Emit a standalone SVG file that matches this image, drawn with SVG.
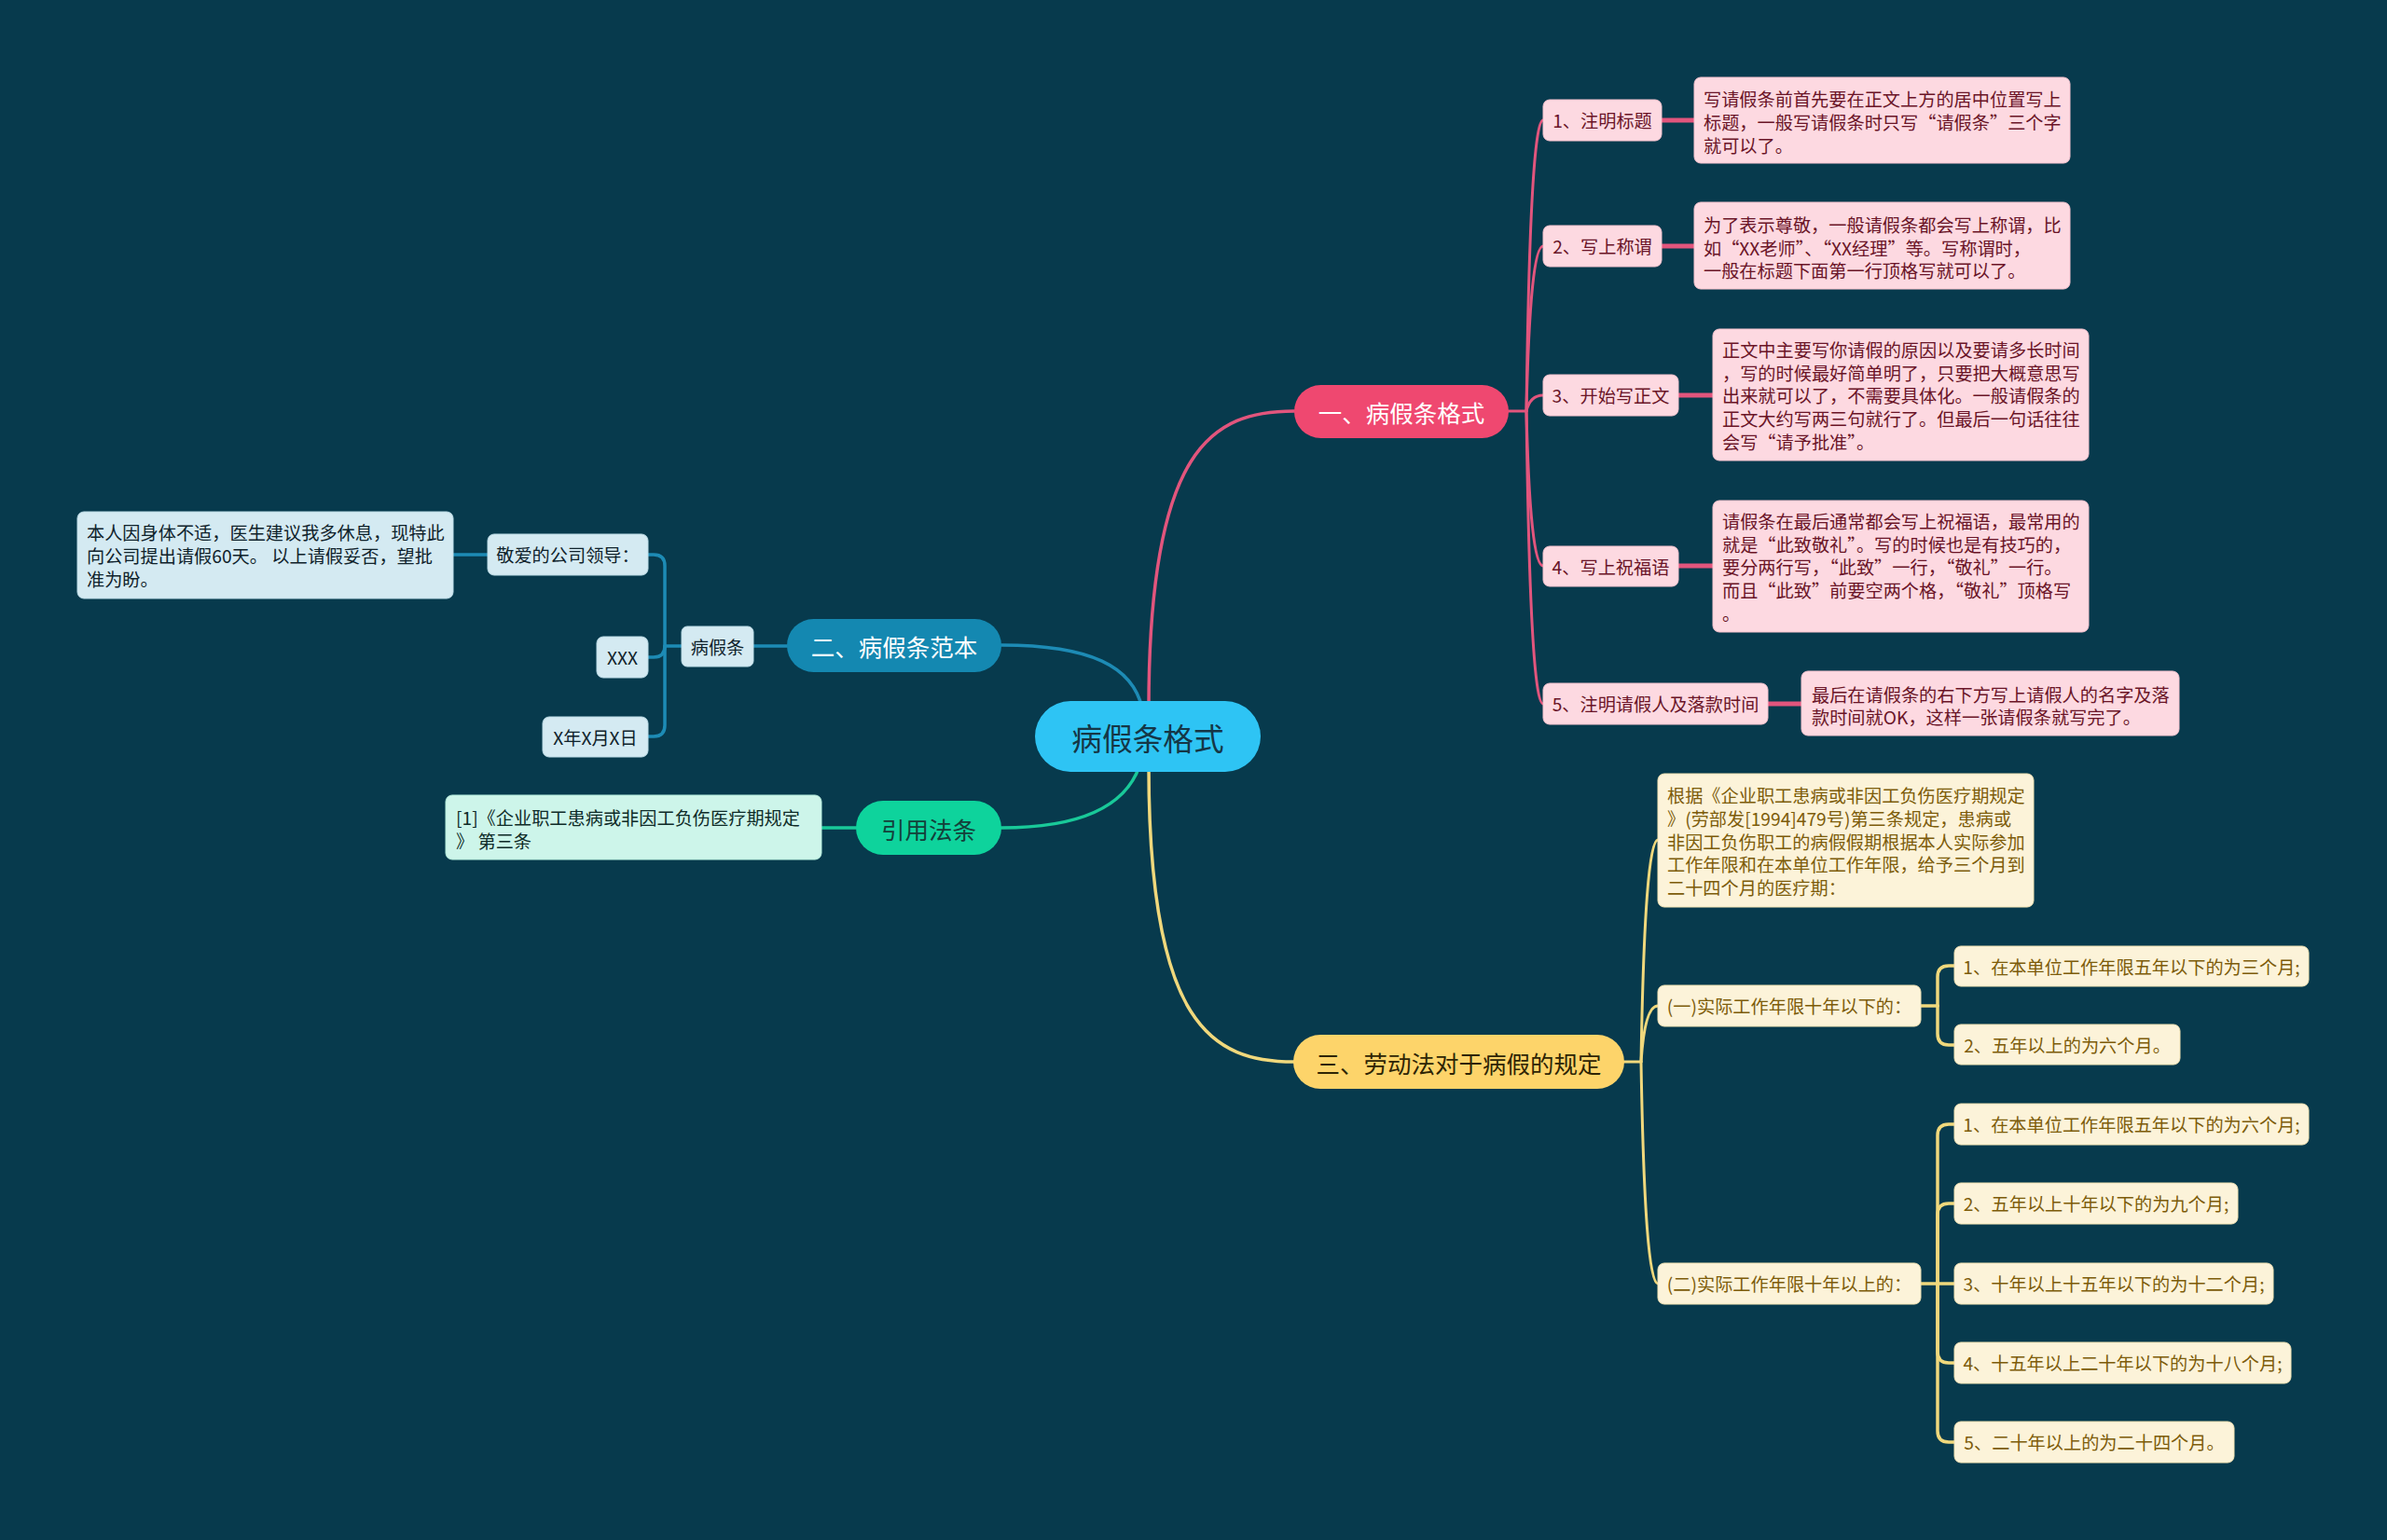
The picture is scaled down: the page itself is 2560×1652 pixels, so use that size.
<svg xmlns="http://www.w3.org/2000/svg" width="2560" height="1652" viewBox="0 0 2560 1652">
<style>
text{font-family:"Noto Sans CJK SC","Noto Sans",sans-serif;dominant-baseline:central}
.t{font-size:19.2px}
.m{text-anchor:middle}
.pk rect{fill:#fdd9e1;stroke:#f6c3cf;stroke-width:1}
.pk text{fill:#6a1427}
.bl rect{fill:#d4eaf2;stroke:#bcdbe6;stroke-width:1}
.bl text{fill:#0f222b}
.gr rect{fill:#cdf5ea;stroke:#b5ecdc;stroke-width:1}
.gr text{fill:#0e2b28}
.yl rect{fill:#fcf3d9;stroke:#f1e2b3;stroke-width:1}
.yl text{fill:#7d5c0a}
.lp{stroke:#e2557d;fill:none}
.lb{stroke:#1d8bb5;fill:none}
.lg{stroke:#19c999;fill:none}
.ly{stroke:#f0d87c;fill:none}
</style>
<rect x="0" y="0" width="2560" height="1652" fill="#073a4d"/>

<g id="connectors" stroke-linecap="round">
  <!-- center to main branches -->
  <path class="lp" stroke-width="3.5" d="M1232 760 C1232 480 1300 441 1388 441"/>
  <path class="lb" stroke-width="3.5" d="M1074 692 C1170 692 1215 715 1225 760"/>
  <path class="lg" stroke-width="3.5" d="M1222 822 C1205 870 1150 888 1074 888"/>
  <path class="ly" stroke-width="3.5" d="M1232 822 C1232 1100 1300 1139 1388 1139"/>
  <!-- pink sub -->
  <path class="lp" stroke-width="3" d="M1618 441 H1637"/>
  <path class="lp" stroke-width="3" d="M1637 441 Q1641 129 1655 129"/>
  <path class="lp" stroke-width="3" d="M1637 441 Q1641 264 1655 264"/>
  <path class="lp" stroke-width="3" d="M1637 441 Q1641 424 1655 424"/>
  <path class="lp" stroke-width="3" d="M1637 441 Q1641 607 1655 607"/>
  <path class="lp" stroke-width="3" d="M1637 441 Q1641 755 1655 755"/>
  <path class="lp" stroke-width="5" d="M1782 129 H1817"/>
  <path class="lp" stroke-width="5" d="M1782 264 H1817"/>
  <path class="lp" stroke-width="5" d="M1800 424 H1837"/>
  <path class="lp" stroke-width="5" d="M1800 607 H1837"/>
  <path class="lp" stroke-width="5" d="M1896 755 H1932"/>
  <!-- blue sub -->
  <path class="lb" stroke-width="3.5" d="M844 693 H808"/>
  <path class="lb" stroke-width="3.5" d="M731 693 H713"/>
  <path class="lb" stroke-width="3.5" d="M713 693 V607 Q713 595 701 595 H695"/>
  <path class="lb" stroke-width="3.5" d="M713 693 Q713 705 701 705 H695"/>
  <path class="lb" stroke-width="3.5" d="M713 693 V778 Q713 790 701 790 H695"/>
  <path class="lb" stroke-width="3.5" d="M523 595 H486"/>
  <!-- green sub -->
  <path class="lg" stroke-width="3.5" d="M918 888 H881"/>
  <!-- yellow sub -->
  <path class="ly" stroke-width="3" d="M1742 1139 H1760"/>
  <path class="ly" stroke-width="3" d="M1760 1139 Q1764 901 1778 901"/>
  <path class="ly" stroke-width="3" d="M1760 1139 Q1764 1079 1778 1079"/>
  <path class="ly" stroke-width="3" d="M1760 1139 Q1764 1377 1778 1377"/>
  <path class="ly" stroke-width="3.5" d="M2060 1079 H2078"/>
  <path class="ly" stroke-width="3.5" d="M2078 1079 V1048 Q2078 1036 2090 1036 H2096"/>
  <path class="ly" stroke-width="3.5" d="M2078 1079 V1109 Q2078 1121 2090 1121 H2096"/>
  <path class="ly" stroke-width="3.5" d="M2060 1377 H2096"/>
  <path class="ly" stroke-width="3.5" d="M2078 1377 V1218 Q2078 1206 2090 1206 H2096"/>
  <path class="ly" stroke-width="3.5" d="M2078 1377 V1303 Q2078 1291 2090 1291 H2096"/>
  <path class="ly" stroke-width="3.5" d="M2078 1377 V1450 Q2078 1462 2090 1462 H2096"/>
  <path class="ly" stroke-width="3.5" d="M2078 1377 V1535 Q2078 1547 2090 1547 H2096"/>
</g>

<!-- center -->
<g id="center">
  <rect x="1110" y="752" width="242" height="76" rx="38" fill="#2ec4f4"/>
  <text x="1231" y="790" class="m" font-size="32.7" fill="#153646">病假条格式</text>
</g>

<!-- main branches -->
<g id="b1">
  <rect x="1388" y="413" width="230" height="57" rx="28.5" fill="#ef4870"/>
  <text x="1503" y="441.5" class="m" font-size="25.5" fill="#ffffff">一、病假条格式</text>
</g>
<g id="b2">
  <rect x="844" y="664" width="230" height="57" rx="28.5" fill="#1488b1"/>
  <text x="959" y="692.5" class="m" font-size="25.5" fill="#ffffff">二、病假条范本</text>
</g>
<g id="b4">
  <rect x="918" y="859" width="156" height="58" rx="29" fill="#0ed39c"/>
  <text x="996" y="888" class="m" font-size="25.5" fill="#14403a">引用法条</text>
</g>
<g id="b3">
  <rect x="1387" y="1110" width="355" height="58" rx="29" fill="#fdd46a"/>
  <text x="1564.5" y="1139" class="m" font-size="25.5" fill="#2e2404">三、劳动法对于病假的规定</text>
</g>

<!-- pink children -->
<g id="p1" class="pk">
  <rect x="1655" y="107" width="127" height="44" rx="7"/>
  <text x="1718.5" y="129" class="t m">1、注明标题</text>
</g>
<g id="p1d" class="pk">
  <rect x="1817" y="83" width="403" height="92" rx="7"/>
  <text x="1827" y="106" class="t">写请假条前首先要在正文上方的居中位置写上</text>
  <text x="1827" y="131" class="t">标题，一般写请假条时只写“请假条”三个字</text>
  <text x="1827" y="156" class="t">就可以了。</text>
</g>
<g id="p2" class="pk">
  <rect x="1655" y="242" width="127" height="44" rx="7"/>
  <text x="1718.5" y="264" class="t m">2、写上称谓</text>
</g>
<g id="p2d" class="pk">
  <rect x="1817" y="217" width="403" height="93" rx="7"/>
  <text x="1827" y="241" class="t">为了表示尊敬，一般请假条都会写上称谓，比</text>
  <text x="1827" y="266" class="t">如“XX老师”、“XX经理”等。写称谓时，</text>
  <text x="1827" y="290" class="t">一般在标题下面第一行顶格写就可以了。</text>
</g>
<g id="p3" class="pk">
  <rect x="1655" y="402" width="145" height="44" rx="7"/>
  <text x="1727.5" y="424" class="t m">3、开始写正文</text>
</g>
<g id="p3d" class="pk">
  <rect x="1837" y="353" width="403" height="141" rx="7"/>
  <text x="1847" y="375" class="t">正文中主要写你请假的原因以及要请多长时间</text>
  <text x="1847" y="400" class="t">，写的时候最好简单明了，只要把大概意思写</text>
  <text x="1847" y="424" class="t">出来就可以了，不需要具体化。一般请假条的</text>
  <text x="1847" y="449" class="t">正文大约写两三句就行了。但最后一句话往往</text>
  <text x="1847" y="474" class="t">会写“请予批准”。</text>
</g>
<g id="p4" class="pk">
  <rect x="1655" y="586" width="145" height="43" rx="7"/>
  <text x="1727.5" y="607.5" class="t m">4、写上祝福语</text>
</g>
<g id="p4d" class="pk">
  <rect x="1837" y="537" width="403" height="141" rx="7"/>
  <text x="1847" y="559" class="t">请假条在最后通常都会写上祝福语，最常用的</text>
  <text x="1847" y="584" class="t">就是“此致敬礼”。写的时候也是有技巧的，</text>
  <text x="1847" y="608" class="t">要分两行写，“此致”一行，“敬礼”一行。</text>
  <text x="1847" y="633" class="t">而且“此致”前要空两个格，“敬礼”顶格写</text>
  <text x="1847" y="658" class="t">。</text>
</g>
<g id="p5" class="pk">
  <rect x="1655" y="733" width="241" height="44" rx="7"/>
  <text x="1775.5" y="755" class="t m">5、注明请假人及落款时间</text>
</g>
<g id="p5d" class="pk">
  <rect x="1932" y="720" width="405" height="69" rx="7"/>
  <text x="1943" y="745" class="t">最后在请假条的右下方写上请假人的名字及落</text>
  <text x="1943" y="769" class="t">款时间就OK，这样一张请假条就写完了。</text>
</g>

<!-- blue children -->
<g id="bl1" class="bl">
  <rect x="731" y="672" width="77" height="43" rx="6"/>
  <text x="769.5" y="693.5" class="t m">病假条</text>
</g>
<g id="bl2" class="bl">
  <rect x="523" y="573" width="172" height="44" rx="7"/>
  <text x="609" y="595" class="t m">敬爱的公司领导：</text>
</g>
<g id="bl2d" class="bl">
  <rect x="83" y="549" width="403" height="93" rx="7"/>
  <text x="93" y="571" class="t">本人因身体不适，医生建议我多休息，现特此</text>
  <text x="93" y="596" class="t">向公司提出请假60天。 以上请假妥否，望批</text>
  <text x="93" y="621" class="t">准为盼。</text>
</g>
<g id="bl3" class="bl">
  <rect x="640" y="683" width="55" height="44" rx="7"/>
  <text x="667.5" y="705" class="t m">XXX</text>
</g>
<g id="bl4" class="bl">
  <rect x="582" y="769" width="113" height="43" rx="7"/>
  <text x="638.5" y="790.5" class="t m">X年X月X日</text>
</g>

<!-- green child -->
<g id="g1" class="gr">
  <rect x="478" y="853" width="403" height="69" rx="7"/>
  <text x="489" y="877" class="t">[1]《企业职工患病或非因工负伤医疗期规定</text>
  <text x="489" y="902" class="t">》 第三条</text>
</g>

<!-- yellow children -->
<g id="y0" class="yl">
  <rect x="1778" y="830" width="403" height="143" rx="7"/>
  <text x="1788" y="853" class="t">根据《企业职工患病或非因工负伤医疗期规定</text>
  <text x="1788" y="878" class="t">》(劳部发[1994]479号)第三条规定，患病或</text>
  <text x="1788" y="903" class="t">非因工负伤职工的病假假期根据本人实际参加</text>
  <text x="1788" y="927" class="t">工作年限和在本单位工作年限，给予三个月到</text>
  <text x="1788" y="952" class="t">二十四个月的医疗期：</text>
</g>
<g id="y1" class="yl">
  <rect x="1778" y="1057" width="282" height="44" rx="7"/>
  <text x="1919" y="1079" class="t m">(一)实际工作年限十年以下的：</text>
</g>
<g id="y1a" class="yl">
  <rect x="2096" y="1015" width="380" height="43" rx="7"/>
  <text x="2286" y="1036.5" class="t m">1、在本单位工作年限五年以下的为三个月;</text>
</g>
<g id="y1b" class="yl">
  <rect x="2096" y="1099" width="242" height="43" rx="7"/>
  <text x="2217" y="1120.5" class="t m">2、五年以上的为六个月。</text>
</g>
<g id="y2" class="yl">
  <rect x="1778" y="1355" width="282" height="44" rx="7"/>
  <text x="1919" y="1377" class="t m">(二)实际工作年限十年以上的：</text>
</g>
<g id="y2a" class="yl">
  <rect x="2096" y="1184" width="380" height="44" rx="7"/>
  <text x="2286" y="1206" class="t m">1、在本单位工作年限五年以下的为六个月;</text>
</g>
<g id="y2b" class="yl">
  <rect x="2096" y="1269" width="304" height="44" rx="7"/>
  <text x="2248" y="1291" class="t m">2、五年以上十年以下的为九个月;</text>
</g>
<g id="y2c" class="yl">
  <rect x="2096" y="1355" width="342" height="44" rx="7"/>
  <text x="2267" y="1377" class="t m">3、十年以上十五年以下的为十二个月;</text>
</g>
<g id="y2d" class="yl">
  <rect x="2096" y="1440" width="361" height="44" rx="7"/>
  <text x="2276.5" y="1462" class="t m">4、十五年以上二十年以下的为十八个月;</text>
</g>
<g id="y2e" class="yl">
  <rect x="2096" y="1525" width="300" height="44" rx="7"/>
  <text x="2246" y="1547" class="t m">5、二十年以上的为二十四个月。</text>
</g>
</svg>
